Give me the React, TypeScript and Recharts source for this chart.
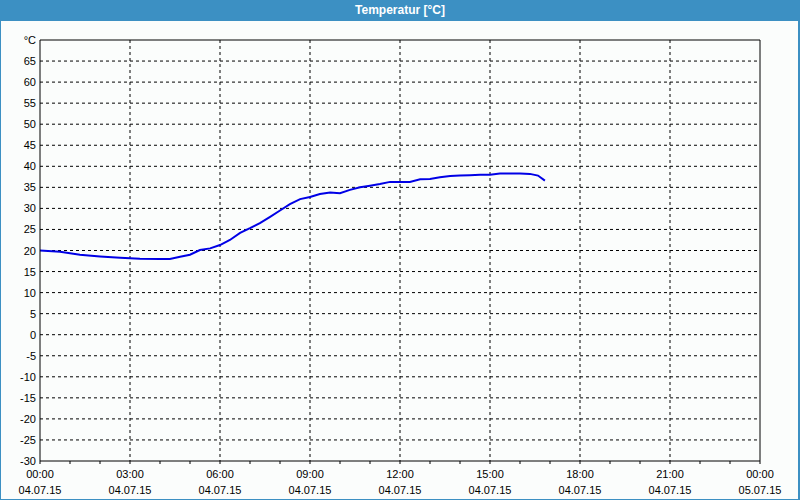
import React from 'react';
import { LineChart, Line, XAxis, YAxis, CartesianGrid, ReferenceLine } from 'recharts';

// hours since 04.07.15 00:00
const hours = [
  0, 0.67, 1.33, 2, 2.67, 3.33, 4, 4.33, 4.67, 5, 5.33, 5.67, 6, 6.33, 6.67, 7, 7.33, 7.67,
  8, 8.33, 8.67, 9, 9.33, 9.67, 10, 10.33, 10.67, 11, 11.33, 11.67, 12, 12.33, 12.67, 13,
  13.33, 13.67, 14, 14.33, 14.67, 15, 15.33, 15.67, 16, 16.33, 16.6, 16.83,
];
const temps = [
  20.0, 19.7, 19.0, 18.6, 18.3, 18.05, 18.0, 18.0, 18.5, 19.0, 20.1, 20.5, 21.3, 22.5, 24.2,
  25.3, 26.5, 28.0, 29.5, 31.0, 32.2, 32.7, 33.4, 33.8, 33.6, 34.4, 35.0, 35.4, 35.8, 36.3,
  36.3, 36.3, 36.9, 37.0, 37.4, 37.7, 37.8, 37.9, 38.0, 38.0, 38.3, 38.3, 38.3, 38.2, 37.8, 36.6,
];

const xTicks = [0, 1, 2, 3, 4, 5, 6, 7, 8, 9, 10, 11, 12, 13, 14, 15, 16, 17, 18, 19, 20, 21, 22, 23, 24];
const xLabels: Record<number, [string, string]> = {
  0: ['00:00', '04.07.15'],
  3: ['03:00', '04.07.15'],
  6: ['06:00', '04.07.15'],
  9: ['09:00', '04.07.15'],
  12: ['12:00', '04.07.15'],
  15: ['15:00', '04.07.15'],
  18: ['18:00', '04.07.15'],
  21: ['21:00', '04.07.15'],
  24: ['00:00', '05.07.15'],
};
const yTicks = [-30, -25, -20, -15, -10, -5, 0, 5, 10, 15, 20, 25, 30, 35, 40, 45, 50, 55, 60, 65, 70];
const gridX = [3, 6, 9, 12, 15, 18, 21];
const gridY = [-25, -20, -15, -10, -5, 0, 5, 10, 15, 20, 25, 30, 35, 40, 45, 50, 55, 60, 65];

const data = hours.map((h, i) => ({ h, t: temps[i] }));

const font = '"Liberation Sans", Arial, sans-serif';

const XTick = (props: any) => {
  const { x, payload } = props;
  const lbl = xLabels[payload.value];
  if (!lbl) return null;
  return (
    <g>
      <text x={x} y={457} textAnchor="middle" fontSize={11} fontFamily={font} fill="#000">{lbl[0]}</text>
      <text x={x} y={473} textAnchor="middle" fontSize={11} fontFamily={font} fill="#000">{lbl[1]}</text>
    </g>
  );
};

const YTick = (props: any) => {
  const { y, payload } = props;
  const v = payload.value;
  return (
    <text x={35} y={y} dy={4} textAnchor="end" fontSize={11} fontFamily={font} fill="#000">
      {v === 70 ? '°C' : String(v)}
    </text>
  );
};

export default function App() {
  return (
    <div style={{ position: 'fixed', left: 0, top: 0, width: 800, height: 500, background: '#3c90c3' }}>
      <div style={{
        height: 21, lineHeight: '21px', textAlign: 'center', color: '#fff', fontWeight: 'bold',
        fontSize: 12, fontFamily: font,
      }}>
        Temperatur [°C]
      </div>
      <div style={{ position: 'absolute', left: 1, top: 21, width: 797, height: 478, background: '#fbfdfc' }}>
        <LineChart width={797} height={478} data={data} margin={{ top: 19, right: 38, left: 0, bottom: 0 }}>
          <CartesianGrid
            stroke="#000"
            strokeDasharray="3 3"
            horizontalValues={gridY}
            verticalValues={gridX}
          />
          <XAxis
            dataKey="h"
            type="number"
            domain={[0, 24]}
            ticks={xTicks}
            interval={0}
            height={38}
            stroke="#000"
            tickSize={3}
            tick={<XTick />}
          />
          <YAxis
            type="number"
            domain={[-30, 70]}
            ticks={yTicks}
            interval={0}
            width={39}
            stroke="#000"
            tickLine={false}
            tick={<YTick />}
          />
          <ReferenceLine y={70} stroke="#000" />
          <ReferenceLine x={24} stroke="#000" />
          <Line
            dataKey="t"
            type="linear"
            stroke="#0000e6"
            strokeWidth={2}
            dot={false}
            isAnimationActive={false}
          />
        </LineChart>
      </div>
    </div>
  );
}
